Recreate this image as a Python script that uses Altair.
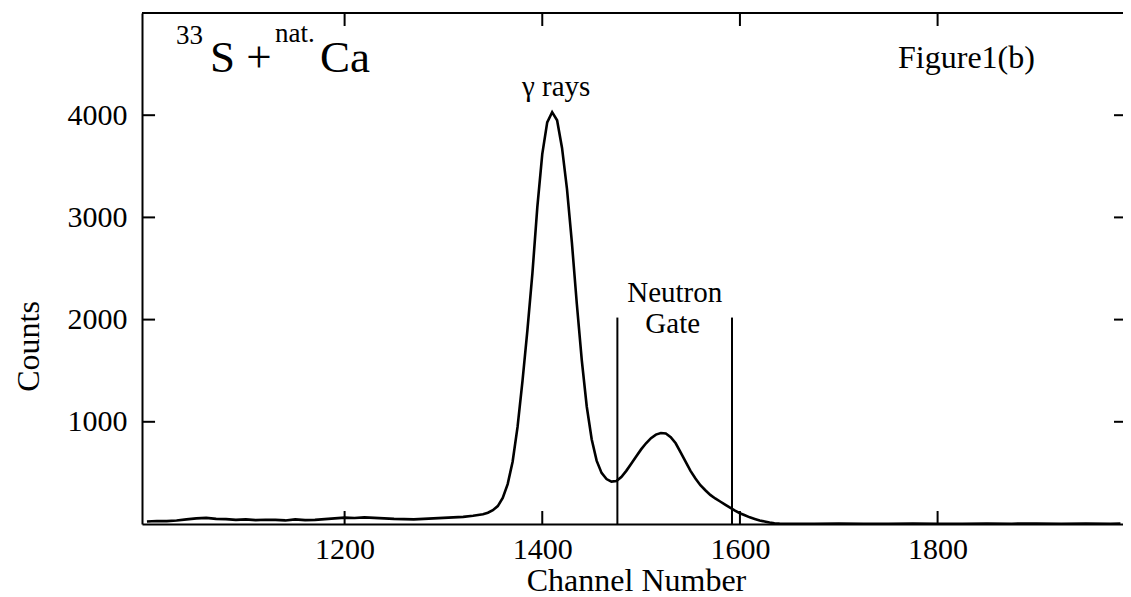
import altair as alt
import pandas as pd

# ---- spectrum ----
channels = [1000, 1010, 1020, 1030, 1040, 1050, 1060, 1070, 1080, 1090,
            1100, 1110, 1120, 1130, 1140, 1150, 1160, 1170, 1180, 1190,
            1200, 1210, 1220, 1230, 1240, 1250, 1260, 1270, 1280, 1290,
            1300, 1310, 1320, 1330, 1340, 1345, 1350, 1355, 1360, 1365,
            1370, 1375, 1380, 1385, 1390, 1395, 1400, 1405, 1410, 1415,
            1420, 1425, 1430, 1435, 1440, 1445, 1450, 1455, 1460, 1465,
            1470, 1475, 1480, 1485, 1490, 1495, 1500, 1505, 1510, 1515,
            1520, 1525, 1530, 1535, 1540, 1545, 1550, 1555, 1560, 1565,
            1570, 1575, 1580, 1585, 1590, 1595, 1600, 1605, 1610, 1615,
            1620, 1625, 1630, 1635, 1640, 1650, 1660, 1675, 1700, 1725,
            1750, 1775, 1800, 1825, 1850, 1875, 1900, 1925, 1950, 1975, 1985]
counts = [25, 30, 28, 35, 45, 55, 60, 50, 48, 40,
          45, 38, 42, 40, 35, 45, 38, 40, 48, 55,
          62, 58, 65, 60, 55, 50, 48, 45, 50, 55,
          60, 65, 70, 80, 95, 110, 135, 175, 255, 390,
          610, 950, 1400, 1900, 2450, 3100, 3620, 3930, 4030, 3950,
          3680, 3280, 2750, 2150, 1600, 1150, 830, 620, 500, 440,
          415, 420, 460, 520, 590, 660, 730, 790, 840, 875,
          890, 885, 850, 790, 700, 610, 520, 445, 380, 330,
          285, 250, 220, 190, 160, 130, 105, 85, 65, 50,
          35, 25, 15, 8, 4, 2, 3, 2, 4, 3,
          2, 5, 3, 2, 4, 3, 5, 3, 4, 3, 4]

x_ticks = [1200, 1400, 1600, 1800]
y_ticks = [1000, 2000, 3000, 4000]
gate_channels = [1476, 1592]
gate_top = 2020

X_MIN, X_MAX = 995, 1987.6
Y_MIN, Y_MAX = 0, 5000
TICK_X = 13.2   # tick length in channel units
TICK_Y = 127    # tick length in count units
FONT = "Liberation Serif"

spec = pd.DataFrame({"ch": channels, "cnt": counts})

xs = alt.Scale(domain=[X_MIN, X_MAX], nice=False, zero=False)
ys = alt.Scale(domain=[Y_MIN, Y_MAX], nice=False)

x_axis = alt.Axis(values=x_ticks, format="d", title="Channel Number", ticks=False, grid=False,
                  labelPadding=10, domainWidth=2, domainColor="black",
                  titleX=494, titleY=66, titleBaseline="alphabetic", titleAlign="center")
y_axis = alt.Axis(values=y_ticks, format="d", title="Counts", ticks=False, grid=False,
                  labelPadding=15, domainWidth=2, domainColor="black",
                  titleAngle=270, titleX=-114, titleY=333, titleAlign="center",
                  titleBaseline="middle")

line = alt.Chart(spec).mark_line(color="black", strokeWidth=2.6, clip=True).encode(
    x=alt.X("ch:Q", scale=xs, axis=x_axis),
    y=alt.Y("cnt:Q", scale=ys, axis=y_axis),
)

# tick marks pointing inward + top border
rows = []
for t in x_ticks:
    rows.append({"x": t, "x2": t, "y": Y_MIN, "y2": Y_MIN + TICK_Y})
    rows.append({"x": t, "x2": t, "y": Y_MAX - TICK_Y, "y2": Y_MAX})
for t in y_ticks:
    rows.append({"x": X_MIN, "x2": X_MIN + TICK_X, "y": t, "y2": t})
    rows.append({"x": X_MAX - 9.1, "x2": X_MAX, "y": t, "y2": t})
rows.append({"x": X_MIN, "x2": X_MAX, "y": Y_MAX, "y2": Y_MAX})
ticks = alt.Chart(pd.DataFrame(rows)).mark_rule(color="black", strokeWidth=2).encode(
    x=alt.X("x:Q", scale=xs), x2="x2:Q",
    y=alt.Y("y:Q", scale=ys), y2="y2:Q",
)

gates = alt.Chart(pd.DataFrame({"g": gate_channels, "lo": [0, 0], "hi": [gate_top, gate_top]})).mark_rule(
    color="black", strokeWidth=2).encode(
    x=alt.X("g:Q", scale=xs), y=alt.Y("lo:Q", scale=ys), y2="hi:Q")

big = pd.DataFrame({"x": [1063.8, 1175.1], "y": [4422, 4422], "t": ["S +", "Ca"]})
small = pd.DataFrame({"x": [1029.4, 1129.6], "y": [4696, 4716], "t": ["33", "nat."]})
mid = pd.DataFrame({"x": [1414, 1534, 1532], "y": [4186, 2176, 1873],
                    "t": ["γ rays", "Neutron", "Gate"]})
fig = pd.DataFrame({"x": [1760], "y": [4461], "t": ["Figure1(b)"]})

def texts(df, size, align):
    return alt.Chart(df).mark_text(font=FONT, fontSize=size, align=align,
                                   baseline="alphabetic", color="black").encode(
        x=alt.X("x:Q", scale=xs), y=alt.Y("y:Q", scale=ys), text="t:N")

chart = alt.layer(
    line, ticks, gates,
    texts(big, 45, "left"), texts(small, 27, "left"),
    texts(mid, 29, "center"), texts(fig, 32, "left"),
).properties(
    width=981, height=511,
    padding={"left": 134, "top": 5, "right": 0, "bottom": 74},
    autosize=alt.AutoSizeParams(type="none"),
).configure_view(strokeWidth=0).configure_axis(
    labelFont=FONT, labelFontSize=30, labelColor="black",
    titleFont=FONT, titleFontSize=32, titleFontWeight="normal", titleColor="black",
)

chart.save("out.html", embed_options={"renderer": "svg", "actions": False})
